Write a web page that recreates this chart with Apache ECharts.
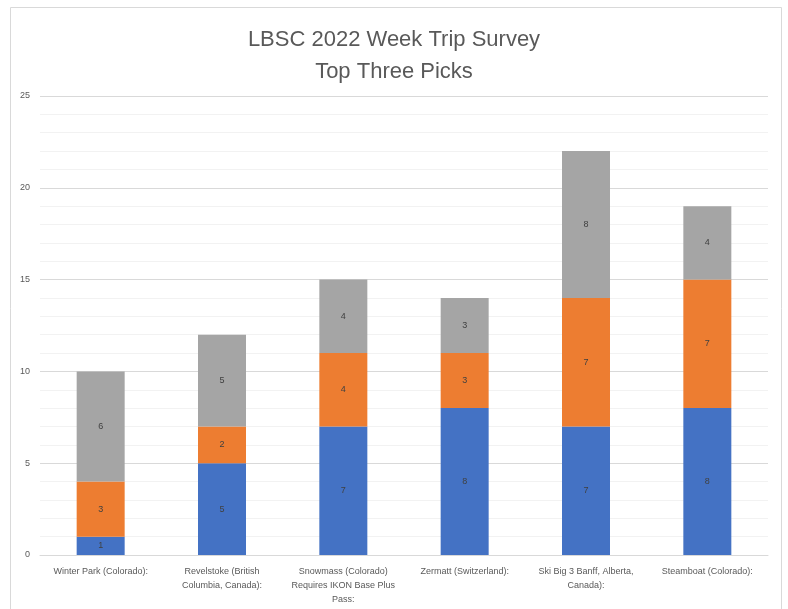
<!DOCTYPE html>
<html><head><meta charset="utf-8">
<script src="https://cdn.jsdelivr.net/npm/echarts@6/dist/echarts.min.js"></script>
<style>html,body{margin:0;padding:0;background:#fff}#c{width:788px;height:609px}</style>
</head><body><div id="c"></div>
<script>
const categories = [
  'Winter Park (Colorado):',
  'Revelstoke (British\nColumbia, Canada):',
  'Snowmass (Colorado)\nRequires IKON Base Plus\nPass:',
  'Zermatt (Switzerland):',
  'Ski Big 3 Banff, Alberta,\nCanada):',
  'Steamboat (Colorado):'
];
const firstPick = [1, 5, 7, 8, 7, 8];
const secondPick = [3, 2, 4, 3, 7, 7];
const thirdPick = [6, 5, 4, 3, 8, 4];
const yTicks = { min: 0, max: 25, interval: 5 };

const chart = echarts.init(document.getElementById('c'));
const font = 'Liberation Sans';
function s(name, data, color) {
  return {
    name, type: 'bar', stack: 'a', data, barWidth: 48,
    itemStyle: { color },
    label: { show: true, position: 'inside', fontSize: 9, color: '#404040', fontFamily: font }
  };
}
chart.setOption({
  animation: false,
  title: {
    text: 'LBSC 2022 Week Trip Survey\nTop Three Picks',
    left: 'center', top: 19,
    textStyle: { fontSize: 22, fontWeight: 'normal', color: '#595959', lineHeight: 32, fontFamily: font }
  },
  graphic: [{
    type: 'rect', shape: { x: 10.5, y: 7.5, width: 771, height: 640 },
    style: { fill: 'none', stroke: '#D9D9D9', lineWidth: 1 }, silent: true, z: -1
  }],
  grid: { left: 40, right: 20, top: 96, bottom: 54 },
  xAxis: {
    type: 'category', data: categories,
    axisTick: { show: false },
    axisLine: { lineStyle: { color: '#D9D9D9' } },
    axisLabel: { fontSize: 9, color: '#595959', lineHeight: 14, margin: 10, interval: 0, fontFamily: font }
  },
  yAxis: {
    type: 'value', min: yTicks.min, max: yTicks.max, interval: yTicks.interval,
    axisLine: { show: false }, axisTick: { show: false },
    axisLabel: { fontSize: 9, color: '#595959', margin: 10, fontFamily: font },
    splitLine: { lineStyle: { color: '#D9D9D9' } },
    minorTick: { show: false, splitNumber: 5 },
    minorSplitLine: { show: true, lineStyle: { color: '#F2F2F2' } }
  },
  series: [
    s('First', firstPick, '#4472C4'),
    s('Second', secondPick, '#ED7D31'),
    s('Third', thirdPick, '#A5A5A5')
  ]
});
</script></body></html>
